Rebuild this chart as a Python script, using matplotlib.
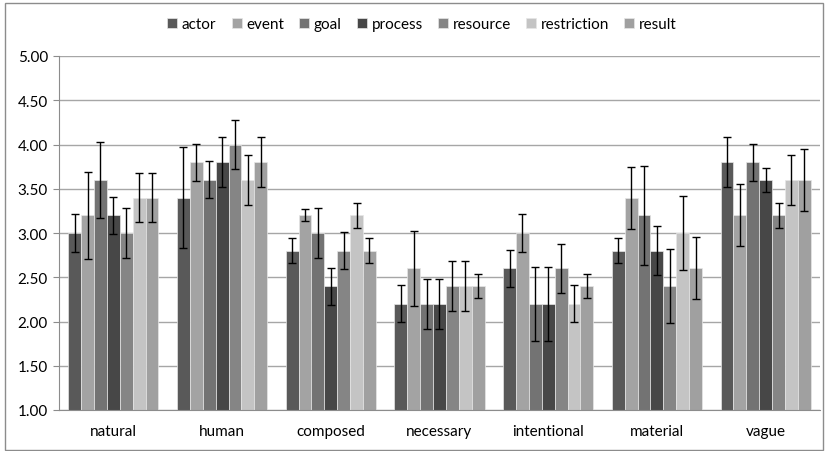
import numpy as np
import matplotlib
matplotlib.use("Agg")
import matplotlib.pyplot as plt
from matplotlib.patches import Rectangle

plt.rcParams['font.family'] = ['Lato', 'DejaVu Sans']

categories = ["natural", "human", "composed", "necessary", "intentional", "material", "vague"]
series = ["actor", "event", "goal", "process", "resource", "restriction", "result"]
colors = ["#595959", "#A3A3A3", "#737373", "#474747", "#858585", "#C4C4C4", "#A0A0A0"]

actor       = [3.0, 3.4, 2.8, 2.2, 2.6, 2.8, 3.8]
event       = [3.2, 3.8, 3.2, 2.6, 3.0, 3.4, 3.2]
goal        = [3.6, 3.6, 3.0, 2.2, 2.2, 3.2, 3.8]
process     = [3.2, 3.8, 2.4, 2.2, 2.2, 2.8, 3.6]
resource    = [3.0, 4.0, 2.8, 2.4, 2.6, 2.4, 3.2]
restriction = [3.4, 3.6, 3.2, 2.4, 2.2, 3.0, 3.6]
result      = [3.4, 3.8, 2.8, 2.4, 2.4, 2.6, 3.6]

actor_err       = [0.21, 0.57, 0.14, 0.21, 0.21, 0.14, 0.28]
event_err       = [0.49, 0.21, 0.07, 0.42, 0.21, 0.35, 0.35]
goal_err        = [0.43, 0.21, 0.28, 0.28, 0.42, 0.56, 0.21]
process_err     = [0.21, 0.28, 0.21, 0.28, 0.42, 0.28, 0.14]
resource_err    = [0.28, 0.28, 0.21, 0.28, 0.28, 0.42, 0.14]
restriction_err = [0.28, 0.28, 0.14, 0.28, 0.21, 0.42, 0.28]
result_err      = [0.28, 0.28, 0.14, 0.14, 0.14, 0.35, 0.35]

values = [actor, event, goal, process, resource, restriction, result]
errors = [actor_err, event_err, goal_err, process_err, resource_err, restriction_err, result_err]

W, H = 829, 452
fig = plt.figure(figsize=(W / 100, H / 100), dpi=100)

# chart-area frame
fig.patches.append(Rectangle((5 / W, 1 / H), 818 / W, 447 / H, transform=fig.transFigure,
                             fill=False, edgecolor="#8c8c8c", linewidth=1.0))

ax = fig.add_axes([59 / W, 1 - 411 / H, 761 / W, 354 / H])

n = len(series)
x = np.arange(len(categories))
group_w = 0.83
bw = group_w / n
for i, (name, vals, errs, col) in enumerate(zip(series, values, errors, colors)):
    pos = x - group_w / 2 + bw * (i + 0.5)
    ax.bar(pos, np.array(vals) - 1.0, bw, bottom=1.0, color=col, label=name,
           edgecolor="#e6e6e6", linewidth=0.5, zorder=2)
    ax.errorbar(pos, vals, yerr=errs, fmt="none", ecolor="black", elinewidth=1.0,
                capsize=2.6, capthick=1.0, zorder=3)

ax.set_xlim(-0.5, len(categories) - 0.5)
ax.set_ylim(1.0, 5.0)
ticks = np.arange(1.0, 5.01, 0.5)
ax.set_yticks(ticks)
ax.set_yticklabels([f"{t:.2f}" for t in ticks])
ax.set_xticks(x)
ax.set_xticklabels(categories)
ax.yaxis.grid(True, color="#a6a6a6", linewidth=1.0, zorder=0)
ax.set_axisbelow(True)
for s in ["top", "right"]:
    ax.spines[s].set_visible(False)
ax.spines["left"].set_color("#8c8c8c")
ax.spines["bottom"].set_color("#8c8c8c")
ax.tick_params(axis="y", length=4, colors="#8c8c8c", labelcolor="black", labelsize=11, pad=4)
ax.tick_params(axis="x", length=0, labelsize=11, pad=10)

fig.legend(loc="center", bbox_to_anchor=(422 / W, 1 - 25 / H), ncol=n, frameon=False,
           fontsize=11, handlelength=0.65, handleheight=0.65, handletextpad=0.3,
           columnspacing=1.0)

fig.savefig("out.png", dpi=100)
